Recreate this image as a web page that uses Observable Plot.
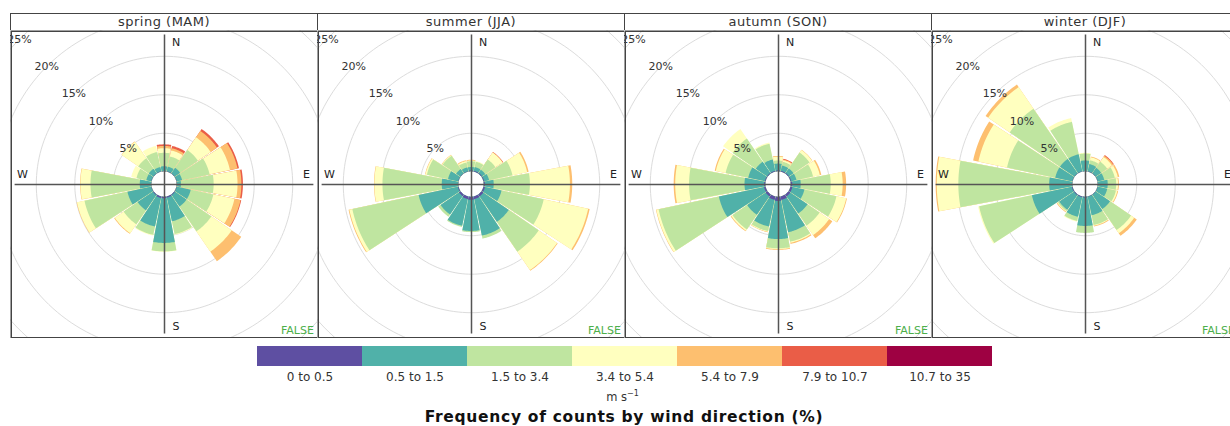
<!DOCTYPE html>
<html><head><meta charset="utf-8">
<script src="https://cdn.jsdelivr.net/npm/d3@7"></script>
<script src="https://cdn.jsdelivr.net/npm/@observablehq/plot@0.6"></script>
<style>
html,body{margin:0;padding:0;overflow:hidden;background:#fff;}
#wrap{position:relative;width:1240px;height:426px;font-family:"DejaVu Sans",sans-serif;color:#333;}
.strip{position:absolute;top:13px;height:18px;box-sizing:border-box;border:1.5px solid #444;text-align:center;font-size:13px;letter-spacing:0.5px;line-height:15px;color:#333;background:#fff;}
.panel{position:absolute;top:30px;}
.legend{position:absolute;left:0;top:346px;}
.unit{position:absolute;left:0;width:1245px;top:389px;text-align:center;font-size:11.5px;color:#333;}
.title{position:absolute;left:0;width:1248px;top:408px;text-align:center;font-size:15.5px;letter-spacing:0.7px;font-weight:bold;color:#111;}
</style></head>
<body><div id="wrap"></div>
<script>
// ---- data ----
const seasons = ["spring (MAM)", "summer (JJA)", "autumn (SON)", "winter (DJF)"];
const directions = ["N","NNE","NE","ENE","E","ESE","SE","SSE","S","SSW","SW","WSW","W","WNW","NW","NNW"];
const speedBins = ["0 to 0.5","0.5 to 1.5","1.5 to 3.4","3.4 to 5.4","5.4 to 7.9","7.9 to 10.7","10.7 to 35"];
const ringValues = [5, 10, 15, 20, 25];
// cumulative frequency (%) at the outer edge of each speed bin, per direction
const springCum = [
  [0.05,0.65,2.4,3.0,3.3,3.5],
  [0.05,0.65,2.0,2.8,3.1,3.4],
  [0.05,0.9,3.7,5.7,6.7,7.0],
  [0.05,0.75,4.4,7.1,8.1,8.3],
  [0.05,0.55,4.8,7.9,8.4,8.6],
  [0.05,1.9,4.9,7.7,8.5,8.6],
  [0.1,1.9,5.8,9.0,10.5],
  [0.15,3.3,5.0,5.1],
  [0.2,6.0,7.1,7.15],
  [0.2,4.0,5.1,5.2],
  [0.1,2.5,4.7,6.1,6.2],
  [0.05,3.2,8.9,9.9,9.95],
  [0.05,1.5,7.9,9.2,9.25],
  [0.05,0.7,2.0,2.7],
  [0.05,0.75,2.4,5.0,5.05],
  [0.05,0.6,2.6,3.4]
];
const summerCum = [
  [0.1,0.55,1.3,1.4,1.5],
  [0.1,0.6,1.3,1.4],
  [0.1,0.6,2.2,3.3,3.35,3.4],
  [0.1,0.75,3.85,5.8,6.0],
  [0.15,1.3,6.0,11.2,11.5],
  [0.2,2.4,8.0,13.9,14.1],
  [0.3,4.3,9.0,11.9,12.0],
  [0.35,5.2,5.6],
  [0.4,4.45,4.6],
  [0.35,3.9,4.05],
  [0.25,3.15,3.5],
  [0.1,5.3,14.1,14.5,14.6],
  [0.05,2.15,9.85,10.9,10.95],
  [0.05,1.4,4.2,4.4,4.45],
  [0.05,0.7,2.8,2.9,2.95],
  [0.05,0.55,1.2,1.4,1.5]
];
const autumnCum = [
  [0.1,1.0,1.4,1.9,2.0],
  [0.1,0.8,1.3,1.5,1.6,1.7],
  [0.1,0.8,3.3,3.7,3.75],
  [0.1,0.8,3.0,3.9,4.1],
  [0.2,1.3,5.2,6.75,7.2],
  [0.25,1.85,6.1,7.4,7.5],
  [0.3,3.0,4.9,6.4,6.9],
  [0.45,4.75,6.0,6.15,6.3],
  [0.55,5.5,6.7,6.8,6.9],
  [0.45,4.0,4.6,4.7,4.75],
  [0.3,3.2,5.5,5.7,5.8],
  [0.2,6.2,14.2,14.5,14.55],
  [0.15,2.7,9.9,11.7,11.9],
  [0.1,2.3,5.3,6.6,6.75],
  [0.1,1.85,5.5,7.0],
  [0.1,1.6,3.7,3.85]
];
const winterCum = [
  [0.05,1.4,2.3,2.4],
  [0.05,1.0,1.5,1.9,2.0],
  [0.05,0.9,1.85,2.6,2.8,2.9],
  [0.05,0.9,2.3,2.7,2.9],
  [0.05,1.3,2.4,2.65,2.75],
  [0.05,1.3,2.45,2.65,2.75],
  [0.05,2.3,5.6,6.1,6.5],
  [0.05,2.5,3.8,3.9,4.0],
  [0.1,3.8,4.7],
  [0.1,2.7,3.25,3.35],
  [0.1,2.4,2.6,2.7,2.8],
  [0.1,5.4,12.4,12.55],
  [0.05,3.0,14.8,17.6,17.75],
  [0.05,2.3,8.7,12.5,13.2],
  [0.05,2.3,10.2,13.6,14.0],
  [0.05,2.3,6.6,7.1]
];
const seasonData = [springCum, summerCum, autumnCum, winterCum];

// ---- styles / layout ----
const palette = ["#5E4FA2","#50B1A9","#BFE5A0","#FFFFBF","#FDBF6F","#EA5D47","#9E0142"];
const FONT = "DejaVu Sans, sans-serif";
const OFF = 1.65;      // inner hole (in % units)
const HALF = 10.6;     // half width of a wedge in degrees
const DOM = 20;        // half extent of the panel in % units
const AXL = 19.4;      // half length of the N-S / E-W lines
const LAB = 18.45;     // compass label distance
const PANEL_W = 308, PITCH = 307, LEFT0 = 10;
const rad = d => d * Math.PI / 180;

function wedgeRows(cum) {
  const rows = [];
  cum.forEach((vals, di) => {
    const full = speedBins.map((_, b) => vals[Math.min(b, vals.length - 1)]);
    const a0 = di * 360 / directions.length;
    for (let b = speedBins.length - 1; b >= 0; b--) {
      if (b > 0 && full[b] <= full[b - 1]) continue;
      const steps = 16;
      for (let s = 0; s <= steps; s++) {
        const th = rad(a0 - HALF + 2 * HALF * s / steps);
        rows.push({id: directions[di] + b, bin: speedBins[b],
          x1: OFF * Math.sin(th), y1: OFF * Math.cos(th),
          x2: (OFF + full[b]) * Math.sin(th), y2: (OFF + full[b]) * Math.cos(th)});
      }
    }
  });
  return rows;
}
const ringRows = ringValues.flatMap(v => d3.range(0, 361, 2).map(a => ({ring: v,
  x: (OFF + v) * Math.sin(rad(a)), y: (OFF + v) * Math.cos(rad(a))})));
const compass = [
  {t: "N", x: 1.5, y: LAB}, {t: "E", x: LAB, y: 1.3},
  {t: "S", x: 1.5, y: -LAB}, {t: "W", x: -LAB, y: 1.3}
];

const wrap = document.getElementById("wrap");
seasons.forEach((name, i) => {
  const strip = document.createElement("div");
  strip.className = "strip";
  strip.style.left = (LEFT0 + i * PITCH) + "px";
  strip.style.width = PANEL_W + "px";
  strip.textContent = name;
  wrap.appendChild(strip);

  const chart = Plot.plot({
    width: PANEL_W, height: PANEL_W, margin: 0,
    x: {domain: [-DOM, DOM], axis: null},
    y: {domain: [-DOM, DOM], axis: null},
    color: {domain: speedBins, range: palette},
    style: {fontFamily: FONT, fontSize: "11px", background: "#fff"},
    marks: [
      Plot.line(ringRows, {x: "x", y: "y", z: "ring", stroke: "#dcdcdc", strokeWidth: 1}),
      Plot.area(wedgeRows(seasonData[i]), {x1: "x1", y1: "y1", x2: "x2", y2: "y2", z: "id", fill: "bin"}),
      Plot.ruleX([0], {y1: -AXL, y2: AXL, stroke: "#555", strokeWidth: 1.5}),
      Plot.ruleY([0], {x1: -AXL, x2: AXL, stroke: "#555", strokeWidth: 1.5}),
      Plot.text(ringValues, {x: v => -(OFF + v) * Math.SQRT1_2, y: v => (OFF + v) * Math.SQRT1_2,
        text: v => v + "%", fill: "#333", fontSize: 11}),
      Plot.text(compass, {x: "x", y: "y", text: "t", fill: "#222", fontSize: 11}),
      Plot.text(["FALSE"], {x: AXL, y: -18.9, text: d => d, textAnchor: "end", fill: "#4DAF4A", fontSize: 11}),
      Plot.frame({stroke: "#444", strokeWidth: 1.5, inset: 0.75})
    ]
  });
  const holder = document.createElement("div");
  holder.className = "panel";
  holder.style.left = (LEFT0 + i * PITCH) + "px";
  holder.appendChild(chart);
  wrap.appendChild(holder);
});

const legend = Plot.plot({
  width: 1240, height: 40,
  marginLeft: 256, marginRight: 248, marginTop: 0, marginBottom: 20,
  x: {domain: speedBins, padding: 0, tickSize: 0, tickPadding: 6, label: null},
  y: {axis: null},
  color: {domain: speedBins, range: palette},
  style: {fontFamily: FONT, fontSize: "12px", color: "#333", background: "transparent"},
  marks: [Plot.cell(speedBins, {x: d => d, fill: d => d})]
});
const lh = document.createElement("div");
lh.className = "legend";
lh.appendChild(legend);
wrap.appendChild(lh);

const unit = document.createElement("div");
unit.className = "unit";
unit.innerHTML = "m s<sup style='font-size:8px'>−1</sup>";
wrap.appendChild(unit);
const title = document.createElement("div");
title.className = "title";
title.textContent = "Frequency of counts by wind direction (%)";
wrap.appendChild(title);
</script>
</body></html>
